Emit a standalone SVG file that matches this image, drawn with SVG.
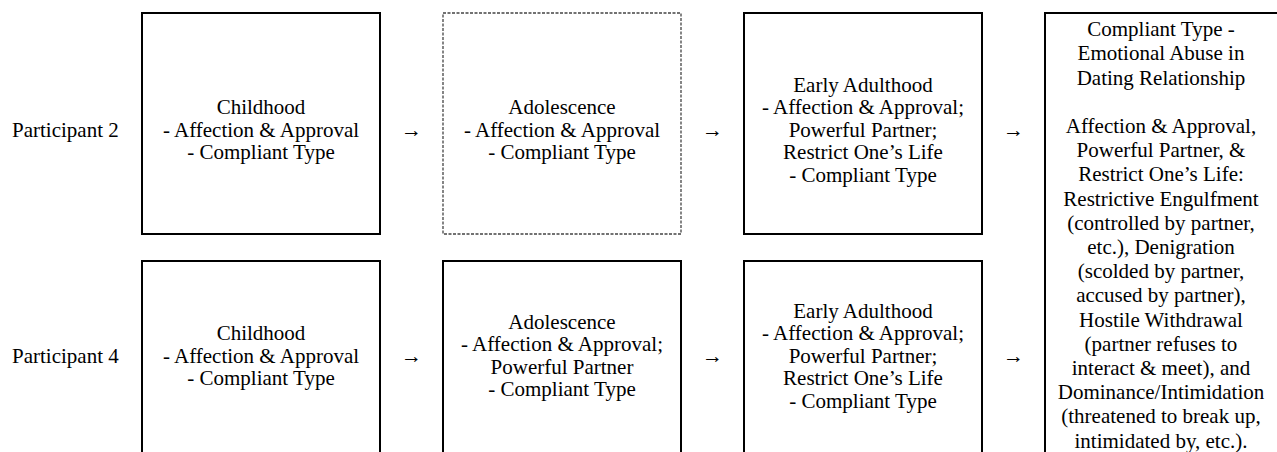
<svg xmlns="http://www.w3.org/2000/svg" width="1277" height="452" viewBox="0 0 1277 452">
<style>
text{font-family:"Liberation Serif","Times New Roman",serif;font-size:21px;fill:#000}
.c{text-anchor:middle}
.box{fill:#fff;stroke:#000;stroke-width:2}
.dash{fill:#fff;stroke:#444;stroke-width:1.3;stroke-dasharray:3 1.5}
</style>
<rect width="1277" height="452" fill="#fff"/>
<g id="labels">
<text x="12" y="136.5">Participant 2</text>
<text x="12" y="362.5">Participant 4</text>
</g>
<g id="p2-childhood">
<rect class="box" x="142" y="13" width="238" height="221"/>
<text class="c" x="261" y="114">Childhood</text>
<text class="c" x="261" y="136.5">- Affection &amp; Approval</text>
<text class="c" x="261" y="159">- Compliant Type</text>
</g>
<g id="p2-adolescence">
<rect class="dash" x="443" y="13" width="238" height="221"/>
<text class="c" x="562" y="114">Adolescence</text>
<text class="c" x="562" y="136.5">- Affection &amp; Approval</text>
<text class="c" x="562" y="159">- Compliant Type</text>
</g>
<g id="p2-adulthood">
<rect class="box" x="744" y="13" width="238" height="221"/>
<text class="c" x="863" y="91.5">Early Adulthood</text>
<text class="c" x="863" y="114">- Affection &amp; Approval;</text>
<text class="c" x="863" y="136.5">Powerful Partner;</text>
<text class="c" x="863" y="159">Restrict One’s Life</text>
<text class="c" x="863" y="181.5">- Compliant Type</text>
</g>
<g id="p4-childhood">
<rect class="box" x="142" y="261" width="238" height="221"/>
<text class="c" x="261" y="340">Childhood</text>
<text class="c" x="261" y="362.5">- Affection &amp; Approval</text>
<text class="c" x="261" y="385">- Compliant Type</text>
</g>
<g id="p4-adolescence">
<rect class="box" x="443" y="261" width="238" height="221"/>
<text class="c" x="562" y="328.8">Adolescence</text>
<text class="c" x="562" y="351.3">- Affection &amp; Approval;</text>
<text class="c" x="562" y="373.8">Powerful Partner</text>
<text class="c" x="562" y="396.3">- Compliant Type</text>
</g>
<g id="p4-adulthood">
<rect class="box" x="744" y="261" width="238" height="221"/>
<text class="c" x="863" y="317.5">Early Adulthood</text>
<text class="c" x="863" y="340">- Affection &amp; Approval;</text>
<text class="c" x="863" y="362.5">Powerful Partner;</text>
<text class="c" x="863" y="385">Restrict One’s Life</text>
<text class="c" x="863" y="407.5">- Compliant Type</text>
</g>
<g id="outcome">
<rect class="box" x="1045" y="13" width="240" height="470"/>
<text class="c" x="1161" y="36.2">Compliant Type -</text>
<text class="c" x="1161" y="60.4">Emotional Abuse in</text>
<text class="c" x="1161" y="84.6">Dating Relationship</text>
<text class="c" x="1161" y="133">Affection &amp; Approval,</text>
<text class="c" x="1161" y="157.2">Powerful Partner, &amp;</text>
<text class="c" x="1161" y="181.4">Restrict One’s Life:</text>
<text class="c" x="1161" y="205.6">Restrictive Engulfment</text>
<text class="c" x="1161" y="229.8">(controlled by partner,</text>
<text class="c" x="1161" y="254">etc.), Denigration</text>
<text class="c" x="1161" y="278.2">(scolded by partner,</text>
<text class="c" x="1161" y="302.4">accused by partner),</text>
<text class="c" x="1161" y="326.6">Hostile Withdrawal</text>
<text class="c" x="1161" y="350.8">(partner refuses to</text>
<text class="c" x="1161" y="375">interact &amp; meet), and</text>
<text class="c" x="1161" y="399.2">Dominance/Intimidation</text>
<text class="c" x="1161" y="423.4">(threatened to break up,</text>
<text class="c" x="1161" y="447.6">intimidated by, etc.).</text>
</g>
<g id="connectors">
<text class="c" x="411.5" y="136.5">→</text>
<text class="c" x="712.5" y="136.5">→</text>
<text class="c" x="1013.5" y="136.5">→</text>
<text class="c" x="411.5" y="362.5">→</text>
<text class="c" x="712.5" y="362.5">→</text>
<text class="c" x="1013.5" y="362.5">→</text>
</g>
</svg>
